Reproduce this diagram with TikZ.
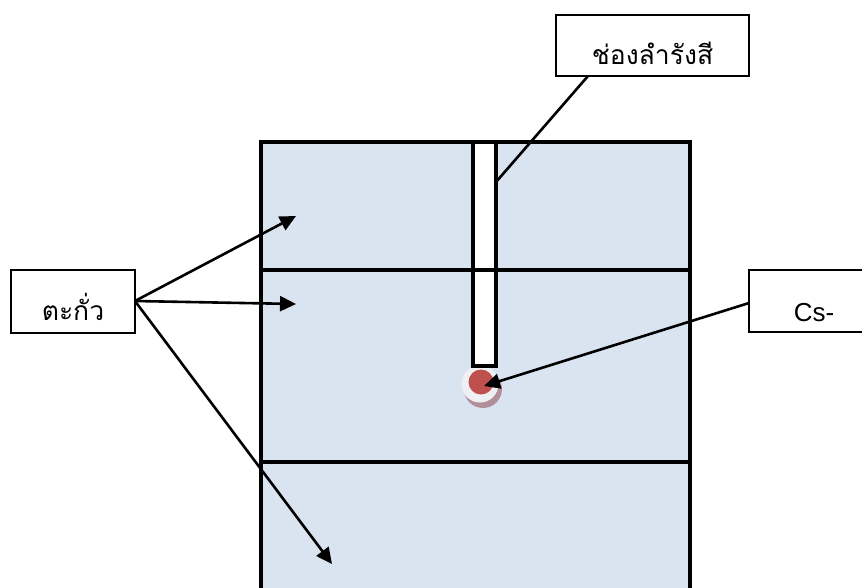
\documentclass[tikz,border=0pt]{standalone}
\usepackage{fontspec}
\setmainfont{Liberation Sans}
\newfontfamily\thaifont[Script=Thai]{Loma}
\usetikzlibrary{arrows.meta}
\definecolor{leadfill}{HTML}{DAE3F0}
\definecolor{sourcered}{HTML}{C0504D}
\definecolor{sourcehalo}{HTML}{EEF0F3}
\definecolor{sourceshade}{HTML}{B08F9A}

\begin{document}
\begin{tikzpicture}[x=1pt, y=-1pt,
    leadblock/.style={draw=black, line width=3.4pt, fill=leadfill, minimum width=429pt, inner sep=0pt, outer sep=0pt},
    labelbox/.style={draw=black, line width=2.8pt, fill=white, inner sep=0pt, outer sep=0pt, font=\fontsize{26.5}{30}\selectfont},
    leader/.style={line width=2.6pt, draw=black},
    pointer/.style={leader, -{Triangle[length=16pt, width=15pt]}}]
  \useasboundingbox (0,0) rectangle (862,587);
  \clip (0,0) rectangle (862,587);
  % lead blocks
  \node[leadblock, minimum height=128pt] (blocktop) at (475.5,206) {};
  \node[leadblock, minimum height=192pt] (blockmid) at (475.5,366) {};
  \node[leadblock, minimum height=140pt] (blockbot) at (475.5,532) {};
  % source
  \node[circle, fill=sourceshade, minimum size=38pt, inner sep=0pt] (sourceshade) at (483,389) {};
  \node[circle, fill=sourcehalo, minimum size=37pt, inner sep=0pt] (sourcehalo) at (480,384) {};
  \node[circle, fill=sourcered, minimum size=25pt, inner sep=0pt] (sourcecore) at (481,382) {};
  % beam channel
  \node[draw=black, line width=3.4pt, fill=white, minimum width=23pt, minimum height=224pt, inner sep=0pt, outer sep=0pt] (channel) at (484.5,254) {};
  \draw[line width=3.4pt] (blocktop.south west) -- (blocktop.south east);
  % labels
  \node[labelbox, minimum width=193pt, minimum height=61pt] (channellabel) at (652.5,45.5) {\raisebox{-19pt}[0pt][0pt]{\thaifont ช่องลำรังสี}};
  \node[labelbox, minimum width=124pt, minimum height=63pt] (leadlabel) at (73,301.5) {\raisebox{-19pt}[0pt][0pt]{\thaifont ตะกั่ว}};
  \node[labelbox, minimum width=130pt, minimum height=62pt] (cslabel) at (814,301) {\raisebox{-20pt}[0pt][0pt]{\fontsize{26}{30}\selectfont Cs-}};
  % free ends
  \coordinate (channelend) at (496,182);
  \coordinate (leadtop) at (296,216);
  \coordinate (leadmid) at (296,304);
  \coordinate (leadbot) at (332,564);
  \coordinate (sourcetip) at (484,386);
  \coordinate (leadstart) at (135,301);
  \coordinate (csstart) at (749,303);
  \coordinate (channelstart) at (588,76);
  % connectors
  \draw[leader] (channelstart) -- (channelend);
  \draw[pointer] (leadstart) -- (leadtop);
  \draw[pointer] (leadstart) -- (leadmid);
  \draw[pointer] (leadstart) -- (leadbot);
  \draw[pointer] (csstart) -- (sourcetip);
\end{tikzpicture}
\end{document}
